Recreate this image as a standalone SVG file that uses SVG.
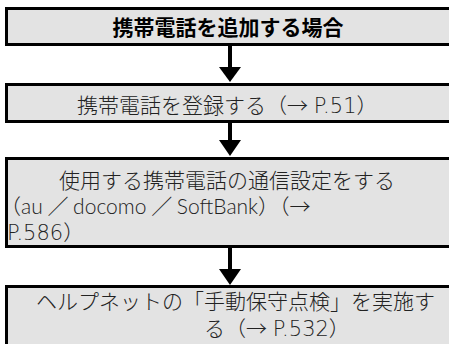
<svg xmlns="http://www.w3.org/2000/svg" width="449" height="344" viewBox="0 0 449 344">
<defs>
<style>
.box{fill:#e3e3e3;stroke:#000;stroke-width:3}
.t{font-family:"Lato","Noto Sans CJK JP",sans-serif;font-size:21px;font-weight:300;fill:#222}
.b{font-family:"Noto Sans CJK JP",sans-serif;font-weight:bold;fill:#000}
.j{font-family:"Noto Sans CJK JP",sans-serif}
.pg{font-family:"DejaVu Sans","Noto Sans CJK JP",sans-serif;font-weight:300}
.shaft{stroke:#000;stroke-width:4}
.head{fill:#000}
</style>
</defs>
<rect width="449" height="344" fill="#fff"/>
<g id="connectors">
<line class="shaft" x1="230" y1="46" x2="230" y2="68"/>
<polygon class="head" points="219,67 241,67 230,82"/>
<line class="shaft" x1="230" y1="123" x2="230" y2="141"/>
<polygon class="head" points="219,140 241,140 230,156"/>
<line class="shaft" x1="230" y1="248" x2="230" y2="270"/>
<polygon class="head" points="219,269 241,269 230,285"/>
</g>
<g id="node1">
<rect class="box" x="6.5" y="8.5" width="500" height="36"/>
<text class="t b" x="228" y="35" text-anchor="middle">携帯電話を追加する場合</text>
</g>
<g id="node2">
<rect class="box" x="6.5" y="84.5" width="500" height="37"/>
<text class="t" x="77" y="113">携帯電話を登録する（<tspan class="j">→</tspan> <tspan class="pg">P.51</tspan>）</text>
</g>
<g id="node3">
<rect class="box" x="6.5" y="158.5" width="500" height="88"/>
<text class="t" x="59" y="188">使用する携帯電話の通信設定をする</text>
<text class="t" x="0" y="214" word-spacing="-1">（au ／ docomo ／ SoftBank）（<tspan class="j">→</tspan></text>
<text class="t" x="7" y="240"><tspan class="pg">P.586</tspan>）</text>
</g>
<g id="node4">
<rect class="box" x="6.5" y="286.5" width="500" height="100"/>
<text class="t" x="36" y="309">ヘルプネットの「手動保守点検」を実施す</text>
<text class="t" x="204" y="335.5">る（<tspan class="j">→</tspan> <tspan class="pg">P.532</tspan>）</text>
</g>
</svg>
